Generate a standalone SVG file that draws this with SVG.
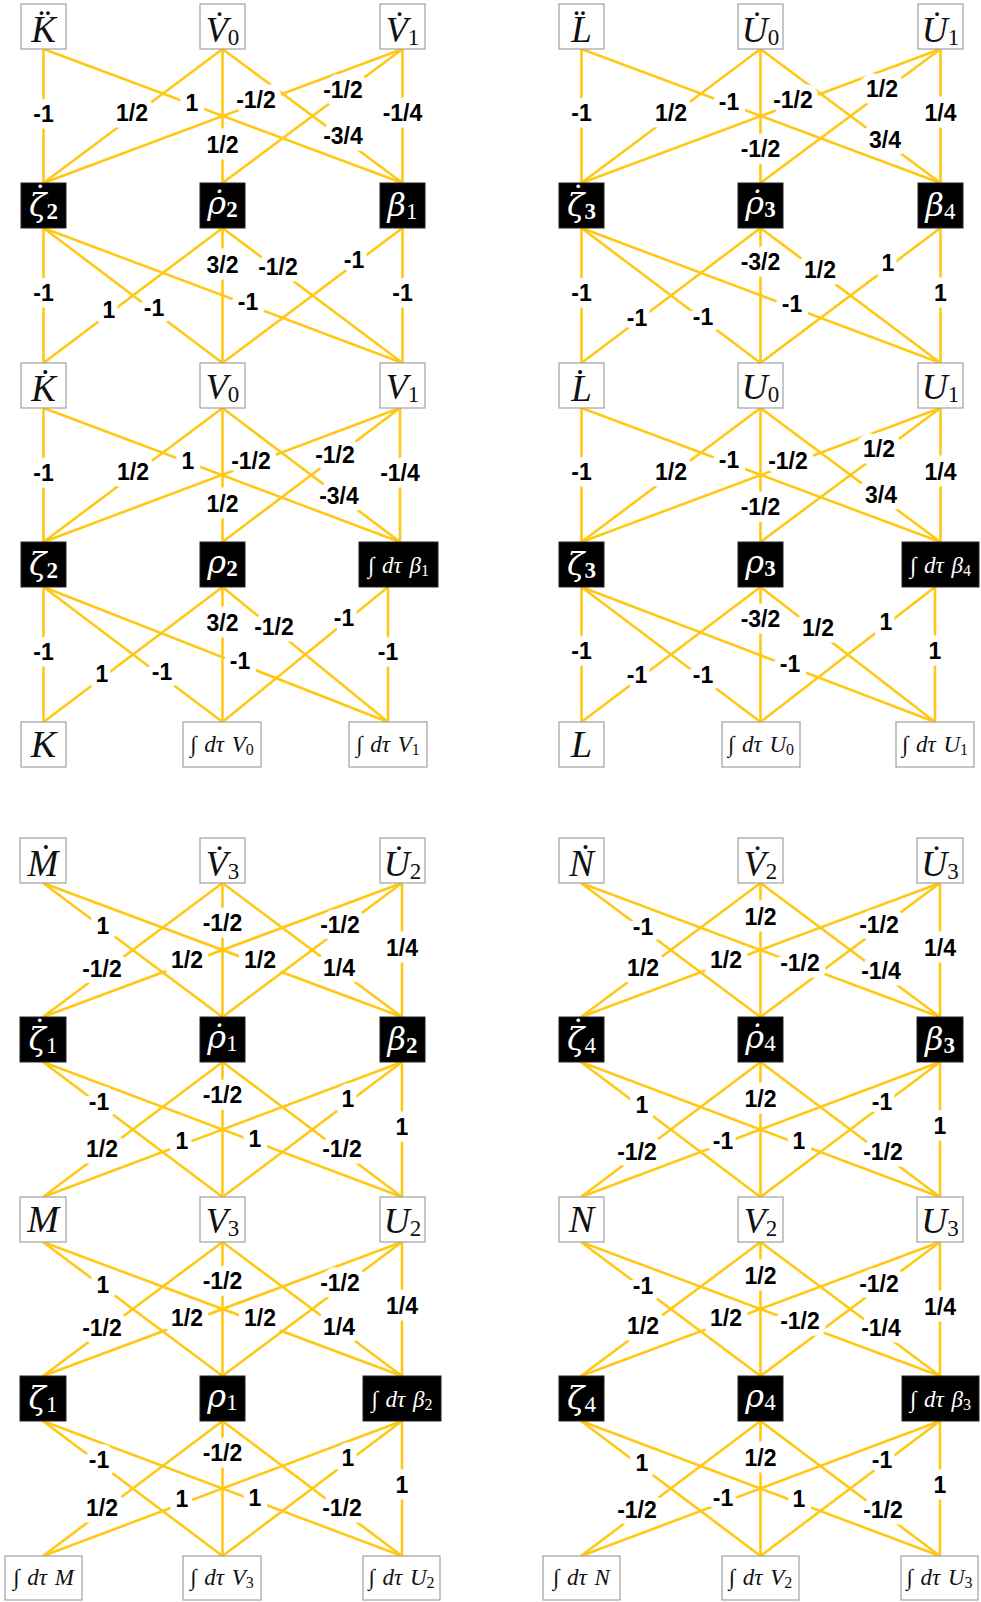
<svg xmlns="http://www.w3.org/2000/svg" width="981" height="1602" viewBox="0 0 981 1602">
<style>
.e{stroke:#FFC814;stroke-width:2.6;fill:none}
.t{font-family:"Liberation Sans",Arial,sans-serif;font-weight:bold;font-size:23px;text-anchor:middle;fill:#000;stroke:#fff;stroke-width:13;stroke-linejoin:round;paint-order:stroke}
.w{fill:#fff;stroke:#a0a0a0;stroke-width:1.2}
.b{fill:#000;stroke:#222;stroke-width:1}
.n{font-family:"Liberation Serif","DejaVu Serif",serif;font-style:italic;text-anchor:middle;fill:#111}
.nw{fill:#fff}
.a{font-size:37px}
.p{font-size:38px}
.c{font-size:36px}
.g{font-size:32px;font-family:"DejaVu Serif",serif}
.dt{font-size:34px;font-style:normal;font-family:"Liberation Serif",serif}
.s{font-size:23px;font-style:normal;font-family:"Liberation Serif",serif}
.sb{font-size:23px;font-style:normal;font-weight:bold;font-family:"Liberation Serif",serif}
.i{font-size:23px;word-spacing:2px}
.is{font-size:16px;font-style:normal}
</style>
<rect width="981" height="1602" fill="#fff"/>
<g id="connectors">
<line class="e" x1="43.5" y1="49" x2="43.5" y2="183"/><line class="e" x1="43.5" y1="49" x2="402.5" y2="183"/>
<line class="e" x1="222.5" y1="49" x2="43.5" y2="183"/><line class="e" x1="222.5" y1="49" x2="222.5" y2="183"/><line class="e" x1="222.5" y1="49" x2="402.5" y2="183"/>
<line class="e" x1="402.5" y1="49" x2="43.5" y2="183"/><line class="e" x1="402.5" y1="49" x2="222.5" y2="183"/><line class="e" x1="402.5" y1="49" x2="402.5" y2="183"/>
<line class="e" x1="43.5" y1="228" x2="43.5" y2="363"/><line class="e" x1="43.5" y1="228" x2="222.5" y2="363"/><line class="e" x1="43.5" y1="228" x2="402.5" y2="363"/>
<line class="e" x1="222.5" y1="228" x2="43.5" y2="363"/><line class="e" x1="222.5" y1="228" x2="222.5" y2="363"/><line class="e" x1="222.5" y1="228" x2="402.5" y2="363"/>
<line class="e" x1="402.5" y1="228" x2="222.5" y2="363"/><line class="e" x1="402.5" y1="228" x2="402.5" y2="363"/>
<line class="e" x1="43.5" y1="408" x2="43.5" y2="542"/><line class="e" x1="43.5" y1="408" x2="400" y2="542"/>
<line class="e" x1="222.5" y1="408" x2="43.5" y2="542"/><line class="e" x1="222.5" y1="408" x2="222.5" y2="542"/><line class="e" x1="222.5" y1="408" x2="400" y2="542"/>
<line class="e" x1="400" y1="408" x2="43.5" y2="542"/><line class="e" x1="400" y1="408" x2="222.5" y2="542"/><line class="e" x1="400" y1="408" x2="400" y2="542"/>
<line class="e" x1="43.5" y1="587" x2="43.5" y2="722"/><line class="e" x1="43.5" y1="587" x2="222.5" y2="722"/><line class="e" x1="43.5" y1="587" x2="388" y2="722"/>
<line class="e" x1="222.5" y1="587" x2="43.5" y2="722"/><line class="e" x1="222.5" y1="587" x2="222.5" y2="722"/><line class="e" x1="222.5" y1="587" x2="388" y2="722"/>
<line class="e" x1="388" y1="587" x2="222.5" y2="722"/><line class="e" x1="388" y1="587" x2="388" y2="722"/>
<line class="e" x1="581.5" y1="49" x2="581.5" y2="183"/><line class="e" x1="581.5" y1="49" x2="940.5" y2="183"/>
<line class="e" x1="760.5" y1="49" x2="581.5" y2="183"/><line class="e" x1="760.5" y1="49" x2="760.5" y2="183"/><line class="e" x1="760.5" y1="49" x2="940.5" y2="183"/>
<line class="e" x1="940.5" y1="49" x2="581.5" y2="183"/><line class="e" x1="940.5" y1="49" x2="760.5" y2="183"/><line class="e" x1="940.5" y1="49" x2="940.5" y2="183"/>
<line class="e" x1="581.5" y1="228" x2="581.5" y2="363"/><line class="e" x1="581.5" y1="228" x2="760.5" y2="363"/><line class="e" x1="581.5" y1="228" x2="940.5" y2="363"/>
<line class="e" x1="760.5" y1="228" x2="581.5" y2="363"/><line class="e" x1="760.5" y1="228" x2="760.5" y2="363"/><line class="e" x1="760.5" y1="228" x2="940.5" y2="363"/>
<line class="e" x1="940.5" y1="228" x2="760.5" y2="363"/><line class="e" x1="940.5" y1="228" x2="940.5" y2="363"/>
<line class="e" x1="581.5" y1="408" x2="581.5" y2="542"/><line class="e" x1="581.5" y1="408" x2="940.5" y2="542"/>
<line class="e" x1="760.5" y1="408" x2="581.5" y2="542"/><line class="e" x1="760.5" y1="408" x2="760.5" y2="542"/><line class="e" x1="760.5" y1="408" x2="940.5" y2="542"/>
<line class="e" x1="940.5" y1="408" x2="581.5" y2="542"/><line class="e" x1="940.5" y1="408" x2="760.5" y2="542"/><line class="e" x1="940.5" y1="408" x2="940.5" y2="542"/>
<line class="e" x1="581.5" y1="587" x2="581.5" y2="722"/><line class="e" x1="581.5" y1="587" x2="760.5" y2="722"/><line class="e" x1="581.5" y1="587" x2="935" y2="722"/>
<line class="e" x1="760.5" y1="587" x2="581.5" y2="722"/><line class="e" x1="760.5" y1="587" x2="760.5" y2="722"/><line class="e" x1="760.5" y1="587" x2="935" y2="722"/>
<line class="e" x1="935" y1="587" x2="760.5" y2="722"/><line class="e" x1="935" y1="587" x2="935" y2="722"/>
<line class="e" x1="43" y1="883" x2="222.5" y2="1017"/><line class="e" x1="43" y1="883" x2="402" y2="1017"/>
<line class="e" x1="222.5" y1="883" x2="43" y2="1017"/><line class="e" x1="222.5" y1="883" x2="222.5" y2="1017"/><line class="e" x1="222.5" y1="883" x2="402" y2="1017"/>
<line class="e" x1="402" y1="883" x2="43" y2="1017"/><line class="e" x1="402" y1="883" x2="222.5" y2="1017"/><line class="e" x1="402" y1="883" x2="402" y2="1017"/>
<line class="e" x1="43" y1="1062" x2="222.5" y2="1197"/><line class="e" x1="43" y1="1062" x2="402" y2="1197"/>
<line class="e" x1="222.5" y1="1062" x2="43" y2="1197"/><line class="e" x1="222.5" y1="1062" x2="222.5" y2="1197"/><line class="e" x1="222.5" y1="1062" x2="402" y2="1197"/>
<line class="e" x1="402" y1="1062" x2="43" y2="1197"/><line class="e" x1="402" y1="1062" x2="222.5" y2="1197"/><line class="e" x1="402" y1="1062" x2="402" y2="1197"/>
<line class="e" x1="43" y1="1242" x2="222.5" y2="1376"/><line class="e" x1="43" y1="1242" x2="402" y2="1376"/>
<line class="e" x1="222.5" y1="1242" x2="43" y2="1376"/><line class="e" x1="222.5" y1="1242" x2="222.5" y2="1376"/><line class="e" x1="222.5" y1="1242" x2="402" y2="1376"/>
<line class="e" x1="402" y1="1242" x2="43" y2="1376"/><line class="e" x1="402" y1="1242" x2="222.5" y2="1376"/><line class="e" x1="402" y1="1242" x2="402" y2="1376"/>
<line class="e" x1="43" y1="1421" x2="222.5" y2="1556"/><line class="e" x1="43" y1="1421" x2="402" y2="1556"/>
<line class="e" x1="222.5" y1="1421" x2="43" y2="1556"/><line class="e" x1="222.5" y1="1421" x2="222.5" y2="1556"/><line class="e" x1="222.5" y1="1421" x2="402" y2="1556"/>
<line class="e" x1="402" y1="1421" x2="43" y2="1556"/><line class="e" x1="402" y1="1421" x2="222.5" y2="1556"/><line class="e" x1="402" y1="1421" x2="402" y2="1556"/>
<line class="e" x1="581" y1="883" x2="760.5" y2="1017"/><line class="e" x1="581" y1="883" x2="940" y2="1017"/>
<line class="e" x1="760.5" y1="883" x2="581" y2="1017"/><line class="e" x1="760.5" y1="883" x2="760.5" y2="1017"/><line class="e" x1="760.5" y1="883" x2="940" y2="1017"/>
<line class="e" x1="940" y1="883" x2="581" y2="1017"/><line class="e" x1="940" y1="883" x2="760.5" y2="1017"/><line class="e" x1="940" y1="883" x2="940" y2="1017"/>
<line class="e" x1="581" y1="1062" x2="760.5" y2="1197"/><line class="e" x1="581" y1="1062" x2="940" y2="1197"/>
<line class="e" x1="760.5" y1="1062" x2="581" y2="1197"/><line class="e" x1="760.5" y1="1062" x2="760.5" y2="1197"/><line class="e" x1="760.5" y1="1062" x2="940" y2="1197"/>
<line class="e" x1="940" y1="1062" x2="581" y2="1197"/><line class="e" x1="940" y1="1062" x2="760.5" y2="1197"/><line class="e" x1="940" y1="1062" x2="940" y2="1197"/>
<line class="e" x1="581" y1="1242" x2="760.5" y2="1376"/><line class="e" x1="581" y1="1242" x2="940" y2="1376"/>
<line class="e" x1="760.5" y1="1242" x2="581" y2="1376"/><line class="e" x1="760.5" y1="1242" x2="760.5" y2="1376"/><line class="e" x1="760.5" y1="1242" x2="940" y2="1376"/>
<line class="e" x1="940" y1="1242" x2="581" y2="1376"/><line class="e" x1="940" y1="1242" x2="760.5" y2="1376"/><line class="e" x1="940" y1="1242" x2="940" y2="1376"/>
<line class="e" x1="581" y1="1421" x2="760.5" y2="1556"/><line class="e" x1="581" y1="1421" x2="940" y2="1556"/>
<line class="e" x1="760.5" y1="1421" x2="581" y2="1556"/><line class="e" x1="760.5" y1="1421" x2="760.5" y2="1556"/><line class="e" x1="760.5" y1="1421" x2="940" y2="1556"/>
<line class="e" x1="940" y1="1421" x2="581" y2="1556"/><line class="e" x1="940" y1="1421" x2="760.5" y2="1556"/><line class="e" x1="940" y1="1421" x2="940" y2="1556"/>
</g>
<g id="edge-labels">
<text class="t" x="43.5" y="122">-1</text><text class="t" x="192" y="111">1</text><text class="t" x="132" y="121">1/2</text><text class="t" x="222.5" y="153">1/2</text><text class="t" x="343" y="144">-3/4</text><text class="t" x="256" y="108">-1/2</text><text class="t" x="343" y="98">-1/2</text><text class="t" x="402.5" y="121">-1/4</text>
<text class="t" x="43.5" y="301">-1</text><text class="t" x="154" y="316">-1</text><text class="t" x="248" y="310">-1</text><text class="t" x="109" y="318">1</text><text class="t" x="222.5" y="273">3/2</text><text class="t" x="278" y="275">-1/2</text><text class="t" x="354" y="268">-1</text><text class="t" x="402.5" y="301">-1</text>
<text class="t" x="43.5" y="481">-1</text><text class="t" x="188" y="469">1</text><text class="t" x="133" y="480">1/2</text><text class="t" x="222.5" y="512">1/2</text><text class="t" x="339" y="504">-3/4</text><text class="t" x="251" y="469">-1/2</text><text class="t" x="335" y="463">-1/2</text><text class="t" x="400" y="481">-1/4</text>
<text class="t" x="43.5" y="660">-1</text><text class="t" x="162" y="680">-1</text><text class="t" x="240" y="669">-1</text><text class="t" x="102" y="682">1</text><text class="t" x="222.5" y="631">3/2</text><text class="t" x="274" y="635">-1/2</text><text class="t" x="344" y="626">-1</text><text class="t" x="388" y="660">-1</text>
<text class="t" x="581.5" y="121">-1</text><text class="t" x="729" y="110">-1</text><text class="t" x="671" y="121">1/2</text><text class="t" x="760.5" y="157">-1/2</text><text class="t" x="885" y="148">3/4</text><text class="t" x="793" y="108">-1/2</text><text class="t" x="882" y="97">1/2</text><text class="t" x="940.5" y="121">1/4</text>
<text class="t" x="581.5" y="301">-1</text><text class="t" x="703" y="325">-1</text><text class="t" x="792" y="312">-1</text><text class="t" x="637" y="326">-1</text><text class="t" x="760.5" y="270">-3/2</text><text class="t" x="820" y="278">1/2</text><text class="t" x="888" y="271">1</text><text class="t" x="940.5" y="301">1</text>
<text class="t" x="581.5" y="480">-1</text><text class="t" x="729" y="468">-1</text><text class="t" x="671" y="480">1/2</text><text class="t" x="760.5" y="515">-1/2</text><text class="t" x="881" y="503">3/4</text><text class="t" x="788" y="469">-1/2</text><text class="t" x="879" y="457">1/2</text><text class="t" x="940.5" y="480">1/4</text>
<text class="t" x="581.5" y="659">-1</text><text class="t" x="703" y="683">-1</text><text class="t" x="790" y="672">-1</text><text class="t" x="637" y="683">-1</text><text class="t" x="760.5" y="627">-3/2</text><text class="t" x="818" y="636">1/2</text><text class="t" x="886" y="630">1</text><text class="t" x="935" y="659">1</text>
<text class="t" x="103" y="934">1</text><text class="t" x="260" y="968">1/2</text><text class="t" x="102" y="977">-1/2</text><text class="t" x="222.5" y="931">-1/2</text><text class="t" x="339" y="976">1/4</text><text class="t" x="187" y="968">1/2</text><text class="t" x="340" y="933">-1/2</text><text class="t" x="402" y="956">1/4</text>
<text class="t" x="99" y="1110">-1</text><text class="t" x="255" y="1147">1</text><text class="t" x="102" y="1157">1/2</text><text class="t" x="222.5" y="1103">-1/2</text><text class="t" x="342" y="1157">-1/2</text><text class="t" x="182" y="1149">1</text><text class="t" x="348" y="1107">1</text><text class="t" x="402" y="1135">1</text>
<text class="t" x="103" y="1293">1</text><text class="t" x="260" y="1326">1/2</text><text class="t" x="102" y="1336">-1/2</text><text class="t" x="222.5" y="1289">-1/2</text><text class="t" x="339" y="1335">1/4</text><text class="t" x="187" y="1326">1/2</text><text class="t" x="340" y="1291">-1/2</text><text class="t" x="402" y="1314">1/4</text>
<text class="t" x="99" y="1468">-1</text><text class="t" x="255" y="1506">1</text><text class="t" x="102" y="1516">1/2</text><text class="t" x="222.5" y="1461">-1/2</text><text class="t" x="342" y="1516">-1/2</text><text class="t" x="182" y="1507">1</text><text class="t" x="348" y="1466">1</text><text class="t" x="402" y="1493">1</text>
<text class="t" x="643" y="935">-1</text><text class="t" x="800" y="971">-1/2</text><text class="t" x="643" y="976">1/2</text><text class="t" x="760.5" y="925">1/2</text><text class="t" x="881" y="979">-1/4</text><text class="t" x="726" y="968">1/2</text><text class="t" x="879" y="933">-1/2</text><text class="t" x="940" y="956">1/4</text>
<text class="t" x="642" y="1113">1</text><text class="t" x="799" y="1149">1</text><text class="t" x="637" y="1160">-1/2</text><text class="t" x="760.5" y="1107">1/2</text><text class="t" x="883" y="1160">-1/2</text><text class="t" x="723" y="1149">-1</text><text class="t" x="882" y="1110">-1</text><text class="t" x="940" y="1134">1</text>
<text class="t" x="643" y="1294">-1</text><text class="t" x="800" y="1329">-1/2</text><text class="t" x="643" y="1334">1/2</text><text class="t" x="760.5" y="1284">1/2</text><text class="t" x="881" y="1336">-1/4</text><text class="t" x="726" y="1326">1/2</text><text class="t" x="879" y="1292">-1/2</text><text class="t" x="940" y="1315">1/4</text>
<text class="t" x="642" y="1471">1</text><text class="t" x="799" y="1507">1</text><text class="t" x="637" y="1518">-1/2</text><text class="t" x="760.5" y="1466">1/2</text><text class="t" x="883" y="1518">-1/2</text><text class="t" x="723" y="1506">-1</text><text class="t" x="882" y="1468">-1</text><text class="t" x="940" y="1493">1</text>
</g>
<g id="Kdd"><rect class="w" x="21" y="4" width="45" height="45"/><text class="n a" x="43.5" y="42">K&#x308;</text></g>
<g id="V0d"><rect class="w" x="200" y="4" width="45" height="45"/><text class="n c" x="222.5" y="42">V&#x307;<tspan class="s" dy="3">0</tspan></text></g>
<g id="V1d"><rect class="w" x="380" y="4" width="45" height="45"/><text class="n c" x="402.5" y="42">V&#x307;<tspan class="s" dy="3">1</tspan></text></g>
<g id="zeta2d"><rect class="b" x="21" y="183" width="45" height="45"/><text class="n g nw" x="43.5" y="216">ζ<tspan class="dt" dx="-12" dy="-9.5">˙</tspan><tspan class="sb" dx="0.7" dy="12.5">2</tspan></text></g>
<g id="rho2d"><rect class="b" x="200" y="183" width="45" height="45"/><text class="n g nw" x="222.5" y="214">ρ&#x307;<tspan class="sb" dy="3">2</tspan></text></g>
<g id="beta1"><rect class="b" x="380" y="183" width="45" height="45"/><text class="n g nw" x="402.5" y="216">β<tspan class="s" dy="3">1</tspan></text></g>
<g id="Kd"><rect class="w" x="21" y="363" width="45" height="45"/><text class="n a" x="43.5" y="401">K&#x307;</text></g>
<g id="V0"><rect class="w" x="200" y="363" width="45" height="45"/><text class="n c" x="222.5" y="399">V<tspan class="s" dy="3">0</tspan></text></g>
<g id="V1"><rect class="w" x="380" y="363" width="45" height="45"/><text class="n c" x="402.5" y="399">V<tspan class="s" dy="3">1</tspan></text></g>
<g id="zeta2"><rect class="b" x="21" y="542" width="45" height="45"/><text class="n g nw" x="43.5" y="575">ζ<tspan class="sb" dy="3">2</tspan></text></g>
<g id="rho2"><rect class="b" x="200" y="542" width="45" height="45"/><text class="n g nw" x="222.5" y="573">ρ<tspan class="sb" dy="3">2</tspan></text></g>
<g id="intbeta1"><rect class="b" x="359" y="542" width="79" height="45"/><text class="n i nw" x="398.5" y="573">∫ dτ β<tspan class="is" dy="3">1</tspan></text></g>
<g id="K"><rect class="w" x="21" y="722" width="45" height="45"/><text class="n p" x="43.5" y="757">K</text></g>
<g id="intV0"><rect class="w" x="183" y="722" width="78" height="45"/><text class="n i" x="222" y="752">∫ dτ V<tspan class="is" dy="3">0</tspan></text></g>
<g id="intV1"><rect class="w" x="349" y="722" width="78" height="45"/><text class="n i" x="388" y="752">∫ dτ V<tspan class="is" dy="3">1</tspan></text></g>
<g id="Ldd"><rect class="w" x="559" y="4" width="45" height="45"/><text class="n a" x="581.5" y="42">L&#x308;</text></g>
<g id="U0d"><rect class="w" x="738" y="4" width="45" height="45"/><text class="n c" x="760.5" y="42">U&#x307;<tspan class="s" dy="3">0</tspan></text></g>
<g id="U1d"><rect class="w" x="918" y="4" width="45" height="45"/><text class="n c" x="940.5" y="42">U&#x307;<tspan class="s" dy="3">1</tspan></text></g>
<g id="zeta3d"><rect class="b" x="559" y="183" width="45" height="45"/><text class="n g nw" x="581.5" y="216">ζ<tspan class="dt" dx="-12" dy="-9.5">˙</tspan><tspan class="sb" dx="0.7" dy="12.5">3</tspan></text></g>
<g id="rho3d"><rect class="b" x="738" y="183" width="45" height="45"/><text class="n g nw" x="760.5" y="214">ρ&#x307;<tspan class="sb" dy="3">3</tspan></text></g>
<g id="beta4"><rect class="b" x="918" y="183" width="45" height="45"/><text class="n g nw" x="940.5" y="216">β<tspan class="s" dy="3">4</tspan></text></g>
<g id="Ld"><rect class="w" x="559" y="363" width="45" height="45"/><text class="n a" x="581.5" y="401">L&#x307;</text></g>
<g id="U0"><rect class="w" x="738" y="363" width="45" height="45"/><text class="n c" x="760.5" y="399">U<tspan class="s" dy="3">0</tspan></text></g>
<g id="U1"><rect class="w" x="918" y="363" width="45" height="45"/><text class="n c" x="940.5" y="399">U<tspan class="s" dy="3">1</tspan></text></g>
<g id="zeta3"><rect class="b" x="559" y="542" width="45" height="45"/><text class="n g nw" x="581.5" y="575">ζ<tspan class="sb" dy="3">3</tspan></text></g>
<g id="rho3"><rect class="b" x="738" y="542" width="45" height="45"/><text class="n g nw" x="760.5" y="573">ρ<tspan class="sb" dy="3">3</tspan></text></g>
<g id="intbeta4"><rect class="b" x="902" y="542" width="77" height="45"/><text class="n i nw" x="940.5" y="573">∫ dτ β<tspan class="is" dy="3">4</tspan></text></g>
<g id="L"><rect class="w" x="559" y="722" width="45" height="45"/><text class="n p" x="581.5" y="757">L</text></g>
<g id="intU0"><rect class="w" x="722" y="722" width="78" height="45"/><text class="n i" x="761" y="752">∫ dτ U<tspan class="is" dy="3">0</tspan></text></g>
<g id="intU1"><rect class="w" x="896" y="722" width="78" height="45"/><text class="n i" x="935" y="752">∫ dτ U<tspan class="is" dy="3">1</tspan></text></g>
<g id="Md"><rect class="w" x="20" y="838" width="46" height="45"/><text class="n a" x="43" y="876">M&#x307;</text></g>
<g id="V3d"><rect class="w" x="200" y="838" width="45" height="45"/><text class="n c" x="222.5" y="876">V&#x307;<tspan class="s" dy="3">3</tspan></text></g>
<g id="U2d"><rect class="w" x="380" y="838" width="45" height="45"/><text class="n c" x="402.5" y="876">U&#x307;<tspan class="s" dy="3">2</tspan></text></g>
<g id="zeta1d"><rect class="b" x="20" y="1017" width="46" height="45"/><text class="n g nw" x="43" y="1050">ζ<tspan class="dt" dx="-12" dy="-9.5">˙</tspan><tspan class="s" dx="0.7" dy="12.5">1</tspan></text></g>
<g id="rho1d"><rect class="b" x="200" y="1017" width="45" height="45"/><text class="n g nw" x="222.5" y="1048">ρ&#x307;<tspan class="s" dy="3">1</tspan></text></g>
<g id="beta2"><rect class="b" x="380" y="1017" width="45" height="45"/><text class="n g nw" x="402.5" y="1050">β<tspan class="sb" dy="3">2</tspan></text></g>
<g id="M"><rect class="w" x="20" y="1197" width="46" height="45"/><text class="n p" x="43" y="1232">M</text></g>
<g id="V3"><rect class="w" x="200" y="1197" width="45" height="45"/><text class="n c" x="222.5" y="1233">V<tspan class="s" dy="3">3</tspan></text></g>
<g id="U2"><rect class="w" x="380" y="1197" width="45" height="45"/><text class="n c" x="402.5" y="1233">U<tspan class="s" dy="3">2</tspan></text></g>
<g id="zeta1"><rect class="b" x="20" y="1376" width="46" height="45"/><text class="n g nw" x="43" y="1409">ζ<tspan class="s" dy="3">1</tspan></text></g>
<g id="rho1"><rect class="b" x="200" y="1376" width="45" height="45"/><text class="n g nw" x="222.5" y="1407">ρ<tspan class="s" dy="3">1</tspan></text></g>
<g id="intbeta2"><rect class="b" x="363" y="1376" width="78" height="45"/><text class="n i nw" x="402" y="1407">∫ dτ β<tspan class="is" dy="3">2</tspan></text></g>
<g id="intM"><rect class="w" x="5" y="1556" width="77" height="44"/><text class="n i" x="43.5" y="1585">∫ dτ M</text></g>
<g id="intV3"><rect class="w" x="183" y="1556" width="78" height="44"/><text class="n i" x="222" y="1585">∫ dτ V<tspan class="is" dy="3">3</tspan></text></g>
<g id="intU2"><rect class="w" x="363" y="1556" width="77" height="44"/><text class="n i" x="401.5" y="1585">∫ dτ U<tspan class="is" dy="3">2</tspan></text></g>
<g id="Nd"><rect class="w" x="559" y="838" width="45" height="45"/><text class="n a" x="581.5" y="876">N&#x307;</text></g>
<g id="V2d"><rect class="w" x="738" y="838" width="45" height="45"/><text class="n c" x="760.5" y="876">V&#x307;<tspan class="s" dy="3">2</tspan></text></g>
<g id="U3d"><rect class="w" x="917" y="838" width="46" height="45"/><text class="n c" x="940" y="876">U&#x307;<tspan class="s" dy="3">3</tspan></text></g>
<g id="zeta4d"><rect class="b" x="559" y="1017" width="45" height="45"/><text class="n g nw" x="581.5" y="1050">ζ<tspan class="dt" dx="-12" dy="-9.5">˙</tspan><tspan class="s" dx="0.7" dy="12.5">4</tspan></text></g>
<g id="rho4d"><rect class="b" x="738" y="1017" width="45" height="45"/><text class="n g nw" x="760.5" y="1048">ρ&#x307;<tspan class="s" dy="3">4</tspan></text></g>
<g id="beta3"><rect class="b" x="917" y="1017" width="46" height="45"/><text class="n g nw" x="940" y="1050">β<tspan class="sb" dy="3">3</tspan></text></g>
<g id="N"><rect class="w" x="559" y="1197" width="45" height="45"/><text class="n p" x="581.5" y="1232">N</text></g>
<g id="V2"><rect class="w" x="738" y="1197" width="45" height="45"/><text class="n c" x="760.5" y="1233">V<tspan class="s" dy="3">2</tspan></text></g>
<g id="U3"><rect class="w" x="917" y="1197" width="46" height="45"/><text class="n c" x="940" y="1233">U<tspan class="s" dy="3">3</tspan></text></g>
<g id="zeta4"><rect class="b" x="559" y="1376" width="45" height="45"/><text class="n g nw" x="581.5" y="1409">ζ<tspan class="s" dy="3">4</tspan></text></g>
<g id="rho4"><rect class="b" x="738" y="1376" width="45" height="45"/><text class="n g nw" x="760.5" y="1407">ρ<tspan class="s" dy="3">4</tspan></text></g>
<g id="intbeta3"><rect class="b" x="902" y="1376" width="77" height="45"/><text class="n i nw" x="940.5" y="1407">∫ dτ β<tspan class="is" dy="3">3</tspan></text></g>
<g id="intN"><rect class="w" x="543" y="1556" width="77" height="44"/><text class="n i" x="581.5" y="1585">∫ dτ N</text></g>
<g id="intV2"><rect class="w" x="722" y="1556" width="77" height="44"/><text class="n i" x="760.5" y="1585">∫ dτ V<tspan class="is" dy="3">2</tspan></text></g>
<g id="intU3"><rect class="w" x="901" y="1556" width="77" height="44"/><text class="n i" x="939.5" y="1585">∫ dτ U<tspan class="is" dy="3">3</tspan></text></g>
</svg>
